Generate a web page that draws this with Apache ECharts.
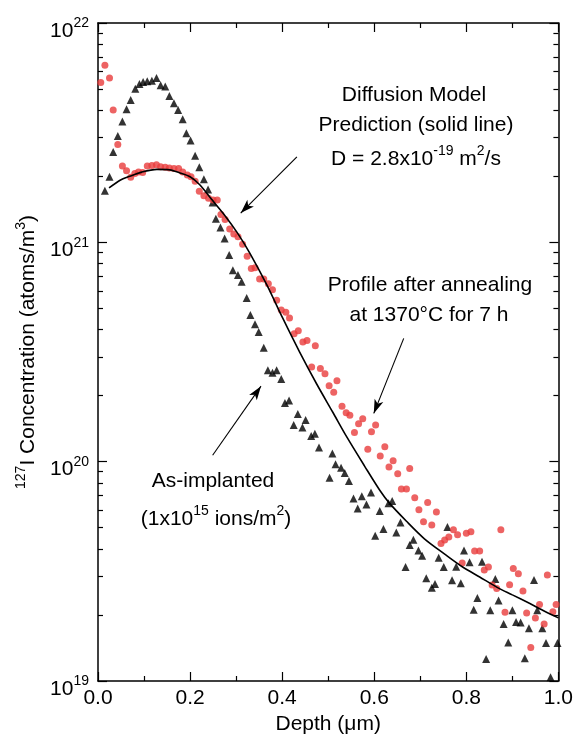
<!DOCTYPE html>
<html><head><meta charset="utf-8">
<script src="https://cdn.jsdelivr.net/npm/echarts@6/dist/echarts.min.js"></script>
<style>html,body{margin:0;padding:0;background:#fff}#c{width:576px;height:746px}</style>
</head><body><div id="c"></div>
<script>
// ---- Data (depth in µm, concentration in atoms/m^3) ----
const implantedDepth = [0.015,0.025,0.033,0.043,0.053,0.062,0.071,0.081,0.090,0.098,0.107,0.117,0.127,0.136,0.146,0.155,0.165,0.174,0.184,0.192,0.201,0.211,0.220,0.230,0.239,0.249,0.256,0.266,0.275,0.285,0.293,0.304,0.312,0.323,0.331,0.341,0.349,0.360,0.369,0.379,0.388,0.398,0.406,0.415,0.434,0.451,0.425,0.444,0.463,0.471,0.480,0.509,0.516,0.528,0.536,0.545,0.503,0.555,0.573,0.593,0.564,0.583,0.612,0.631,0.639,0.602,0.620,0.657,0.648,0.685,0.677,0.696,0.704,0.740,0.759,0.751,0.778,0.668,0.713,0.725,0.732,0.795,0.807,0.834,0.769,0.788,0.863,0.824,0.870,0.816,0.852,0.900,0.954,0.947,0.881,0.908,0.918,0.936,0.965,0.891,0.973,0.998,0.843,0.927,0.983];
const implantedConc = [1.72e21,1.99e21,2.58e21,3.05e21,3.56e21,4.04e21,4.46e21,5.01e21,5.27e21,5.38e21,5.42e21,5.46e21,5.61e21,5.20e21,5.13e21,4.65e21,4.31e21,4.01e21,3.64e21,3.14e21,2.91e21,2.48e21,2.20e21,1.94e21,1.74e21,1.52e21,1.28e21,1.17e21,1.04e21,8.75e20,7.45e20,7.10e20,6.61e20,5.58e20,4.66e20,4.23e20,3.90e20,3.31e20,2.61e20,2.54e20,2.61e20,2.38e20,1.85e20,1.90e20,1.65e20,1.55e20,1.47e20,1.43e20,1.31e20,1.34e20,1.16e20,1.09e20,9.72e19,9.38e19,8.87e19,8.16e19,8.45e19,6.80e19,6.95e19,7.24e19,6.12e19,6.38e19,5.96e19,6.47e19,6.61e19,4.59e19,4.93e19,5.28e19,4.76e19,4.41e19,4.17e19,3.94e19,3.72e19,3.65e19,5.04e19,3.31e19,3.32e19,3.31e19,2.94e19,2.66e19,2.77e19,3.94e19,3.48e19,3.50e19,2.88e19,2.79e19,2.92e19,2.39e19,2.33e19,2.11e19,2.10e19,2.10e19,2.10e19,2.89e19,1.82e19,1.86e19,1.85e19,1.74e19,1.74e19,1.50e19,1.49e19,1.49e19,1.26e19,1.27e19,1.04e19];

const annealedDepth = [0.006,0.015,0.025,0.033,0.043,0.053,0.062,0.071,0.080,0.088,0.097,0.107,0.117,0.127,0.136,0.146,0.155,0.165,0.175,0.184,0.194,0.202,0.211,0.220,0.230,0.240,0.250,0.259,0.267,0.276,0.286,0.295,0.304,0.314,0.324,0.333,0.341,0.351,0.360,0.370,0.379,0.388,0.398,0.408,0.416,0.426,0.435,0.445,0.454,0.472,0.464,0.483,0.493,0.502,0.512,0.519,0.530,0.539,0.547,0.566,0.575,0.557,0.594,0.603,0.586,0.623,0.613,0.641,0.632,0.677,0.651,0.659,0.670,0.688,0.716,0.697,0.735,0.707,0.725,0.772,0.781,0.762,0.753,0.745,0.800,0.810,0.875,0.818,0.829,0.791,0.848,0.839,0.902,0.913,0.856,0.866,0.894,0.923,0.976,0.959,0.995,0.988,0.884,0.931,0.950,0.969,0.940];
const annealedConc = [5.35e21,6.41e21,5.61e21,4.01e21,2.79e21,2.23e21,2.12e21,1.98e21,2.06e21,2.09e21,2.08e21,2.23e21,2.24e21,2.26e21,2.21e21,2.20e21,2.18e21,2.17e21,2.17e21,2.09e21,2.03e21,1.99e21,1.90e21,1.71e21,1.63e21,1.59e21,1.56e21,1.56e21,1.34e21,1.27e21,1.15e21,1.09e21,1.06e21,9.8e20,8.63e20,7.6e20,7.66e20,6.8e20,6.8e20,6.47e20,6.08e20,5.44e20,4.91e20,4.80e20,4.52e20,3.83e20,3.95e20,3.51e20,3.57e20,3.38e20,2.70e20,2.66e20,2.52e20,2.22e20,2.07e20,2.34e20,1.79e20,1.67e20,1.63e20,1.49e20,1.57e20,1.36e20,1.37e20,1.47e20,1.14e20,1.17e20,1.06e20,1.01e20,9.45e19,9.31e19,8.81e19,7.50e19,7.50e19,6.84e19,6.52e19,6.04e19,5.89e19,5.32e19,5.15e19,4.89e19,4.64e19,4.53e19,4.39e19,4.23e19,4.72e19,4.79e19,4.89e19,3.91e19,3.91e19,3.45e19,3.31e19,3.21e19,3.26e19,3.08e19,2.74e19,2.64e19,2.75e19,2.57e19,3.04e19,2.23e19,2.23e19,2.07e19,2.06e19,2.04e19,1.94e19,1.82e19,1.42e19];

const modelDepth = [0.024,0.048,0.069,0.095,0.128,0.156,0.178,0.200,0.221,0.249,0.275,0.302,0.330,0.367,0.401,0.438,0.475,0.510,0.540,0.579,0.612,0.633,0.670,0.709,0.753,0.792,0.829,0.866,0.900,0.937,0.970,1.000];
const modelConc = [1.77e21,1.92e21,2.00e21,2.09e21,2.15e21,2.14e21,2.07e21,1.99e21,1.83e21,1.55e21,1.33e21,1.11e21,8.91e20,6.38e20,4.52e20,3.16e20,2.26e20,1.68e20,1.30e20,9.55e19,7.41e19,6.47e19,5.35e19,4.45e19,3.79e19,3.31e19,2.98e19,2.68e19,2.47e19,2.26e19,2.08e19,1.94e19];

const xTickLabels = ['0.0','0.2','0.4','0.6','0.8','1.0'];
const yDecades = [1e19, 1e20, 1e21, 1e22];

// annotation arrows: [from, to] in data coordinates
const arrowModel = [[0.432, 2.45e21], [0.310, 1.36e21]];
const arrowAnneal = [[0.664, 3.65e20], [0.599, 1.66e20]];
const arrowImplant = [[0.249, 1.07e20], [0.354, 2.21e20]];

// ---- Build ----
const FONT = '"Liberation Sans", Arial, Helvetica, sans-serif';
const yMinor = [];
for (let i = 0; i < yDecades.length - 1; i++) for (let k = 2; k <= 9; k++) yMinor.push(k * yDecades[i]);

const zip = (a, b) => a.map((v, i) => [v, b[i]]);
const supRich = {
  b: { fontSize: 21, fontFamily: FONT, color: '#000', verticalAlign: 'bottom', lineHeight: 25 },
  s: { fontSize: 14, fontFamily: FONT, color: '#000', verticalAlign: 'top', lineHeight: 25 }
};

function yAx(pos, major) {
  return {
    type: 'log', logBase: 10, min: 1e19, max: 1e22, position: pos,
    axisLine: { show: major, onZero: false, lineStyle: { color: '#000', width: 1.5 } },
    axisTick: { show: true, inside: true, length: major ? 9 : 5, customValues: major ? yDecades : yMinor,
      lineStyle: { color: '#000', width: 1.2 } },
    axisLabel: (major && pos === 'left') ? {
      show: true, margin: 9, customValues: yDecades, padding: [12, 0, 0, 0],
      formatter: v => '{b|10}{s|' + Math.round(Math.log10(v)) + '}', rich: supRich
    } : { show: false },
    splitLine: { show: false },
    name: (major && pos === 'left') ? '{s|127}{b|I Concentration (atoms/m}{s|3}{b|)}' : '',
    nameLocation: 'middle', nameRotate: 90, nameGap: 57,
    nameTextStyle: { rich: supRich }
  };
}
function xAx(pos) {
  const bottom = pos === 'bottom';
  return {
    type: 'value', min: 0, max: 1, interval: 0.2, position: pos,
    axisLine: { show: true, onZero: false, lineStyle: { color: '#000', width: 1.5 } },
    axisTick: { show: true, inside: true, length: 9, lineStyle: { color: '#000', width: 1.2 } },
    minorTick: { show: true, splitNumber: 2, length: 5, lineStyle: { color: '#000', width: 1.2 } },
    axisLabel: bottom ? { show: true, margin: 7, fontSize: 21, fontFamily: FONT, color: '#000',
      formatter: v => xTickLabels[Math.round(v / 0.2)] } : { show: false },
    splitLine: { show: false }, minorSplitLine: { show: false },
    name: bottom ? 'Depth (\u03bcm)' : '', nameLocation: 'middle', nameGap: 33,
    nameTextStyle: { fontSize: 21, fontFamily: FONT, color: '#000' }
  };
}
function arrow(a) {
  return [{ coord: a[0], symbol: 'none' }, { coord: a[1], symbol: 'arrow' }];
}

const chart = echarts.init(document.getElementById('c'), null, { renderer: 'canvas' });
chart.setOption({
  animation: false,
  backgroundColor: '#fff',
  grid: { left: 98, right: 17, top: 23, bottom: 65, containLabel: false },
  xAxis: [xAx('bottom'), xAx('top')],
  yAxis: [yAx('left', true), yAx('left', false), yAx('right', true), yAx('right', false)],
  series: [
    { type: 'scatter', name: 'As-implanted', xAxisIndex: 0, yAxisIndex: 0,
      data: zip(implantedDepth, implantedConc), symbol: 'triangle', symbolSize: 8,
      itemStyle: { color: '#000' }, z: 3 },
    { type: 'scatter', name: 'Annealed', xAxisIndex: 0, yAxisIndex: 0,
      data: zip(annealedDepth, annealedConc), symbol: 'circle', symbolSize: 7,
      itemStyle: { color: '#e93c3c' }, z: 3 },
    { type: 'line', name: 'Model', xAxisIndex: 0, yAxisIndex: 0,
      data: zip(modelDepth, modelConc), smooth: 0.3, showSymbol: false, symbol: 'none',
      lineStyle: { color: '#000', width: 1.6 }, z: 4,
      markLine: {
        silent: true, symbolSize: [7, 14], label: { show: false },
        lineStyle: { color: '#000', width: 1.1, type: 'solid' },
        emphasis: { disabled: true },
        data: [arrow(arrowModel), arrow(arrowAnneal), arrow(arrowImplant)]
      } }
  ],
  graphic: [
    { type: 'text', x: 414, y: 95, style: { text: 'Diffusion Model', font: '21px ' + FONT, fill: '#000', textAlign: 'center', textVerticalAlign: 'middle' } },
    { type: 'text', x: 416, y: 125, style: { text: 'Prediction (solid line)', font: '21px ' + FONT, fill: '#000', textAlign: 'center', textVerticalAlign: 'middle' } },
    { type: 'text', x: 416, y: 157, style: { text: '{b|D = 2.8x10}{s|-19}{b| m}{s|2}{b|/s}', rich: supRich, textAlign: 'center', textVerticalAlign: 'middle' } },
    { type: 'text', x: 430, y: 285, style: { text: 'Profile after annealing', font: '21px ' + FONT, fill: '#000', textAlign: 'center', textVerticalAlign: 'middle' } },
    { type: 'text', x: 429, y: 315, style: { text: 'at 1370\u00b0C for 7 h', font: '21px ' + FONT, fill: '#000', textAlign: 'center', textVerticalAlign: 'middle' } },
    { type: 'text', x: 213, y: 481, style: { text: 'As-implanted', font: '21px ' + FONT, fill: '#000', textAlign: 'center', textVerticalAlign: 'middle' } },
    { type: 'text', x: 216, y: 517, style: { text: '{b|(1x10}{s|15}{b| ions/m}{s|2}{b|)}', rich: supRich, textAlign: 'center', textVerticalAlign: 'middle' } }
  ]
});
</script>
</body></html>
